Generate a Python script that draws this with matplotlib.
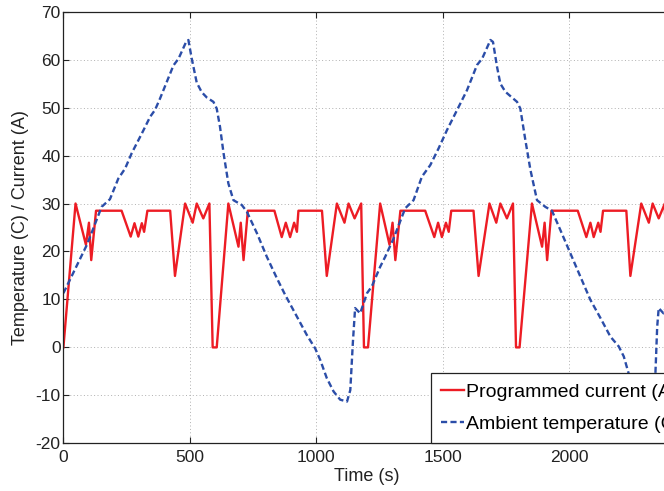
import matplotlib
matplotlib.use('Agg')
import matplotlib.pyplot as plt

plt.rcParams['font.family'] = ['Liberation Sans', 'DejaVu Sans']
plt.rcParams['axes.unicode_minus'] = False

# Programmed current (A)
t_cur = [0, 48, 89, 101, 110, 129, 230, 266, 281, 296, 310, 319, 332, 422, 441, 481, 511, 527, 553, 577, 590, 606,
         652, 692, 701, 712, 729, 834, 863, 879, 896, 912, 923, 929, 1022, 1041, 1081, 1111, 1127, 1151, 1177, 1188, 1204,
         1252, 1289, 1301, 1312, 1332, 1430, 1466, 1481, 1496, 1512, 1523, 1533, 1621, 1641, 1684, 1711, 1727, 1753, 1777, 1789, 1803,
         1852, 1892, 1902, 1912, 1929, 2033, 2067, 2083, 2096, 2114, 2123, 2133, 2225, 2241, 2284, 2314, 2329, 2353, 2377, 2390, 2400]
current = [0, 30, 21.4, 26, 18.2, 28.5, 28.5, 23.1, 25.9, 23.1, 25.9, 24.1, 28.5, 28.5, 14.9, 30, 26, 30, 26.9, 30, 0, 0,
           30, 21, 26, 18.2, 28.5, 28.5, 23, 26, 23, 26, 24.1, 28.5, 28.5, 14.9, 30, 26, 30, 26.9, 30, 0, 0,
           30, 21.4, 26, 18.2, 28.5, 28.5, 23, 26, 23, 26, 24.1, 28.5, 28.5, 14.9, 30, 26, 30, 26.9, 30, 0, 0,
           30, 21, 26, 18.2, 28.5, 28.5, 23, 26, 23, 26, 24.1, 28.5, 28.5, 14.9, 30, 26, 30, 26.9, 30, 0, 0]

# Ambient temperature (C)
t_amb = [0, 92, 105, 151, 184, 217, 244, 270, 310, 343, 362, 382, 435, 455, 485, 494, 507, 527, 547, 567,
         593, 606, 619, 633, 652, 672, 705, 725, 765, 804, 844, 877, 916, 962, 995, 1015, 1041, 1068, 1094, 1121,
         1134, 1144, 1153, 1173, 1200, 1219, 1252, 1272, 1305, 1351, 1384, 1417, 1450, 1483, 1516, 1556, 1595, 1635, 1655, 1688,
         1698, 1714, 1727, 1747, 1793, 1806, 1826, 1846, 1872, 1905, 1931, 1964, 2004, 2043, 2083, 2123, 2162, 2195, 2215, 2234,
         2262, 2290, 2318, 2334, 2340, 2347, 2353, 2372, 2400]
amb = [11.3, 21.3, 23, 29.3, 30.9, 35.2, 37.3, 40.5, 44.6, 48.1, 49.5, 51.9, 58.8, 60.2, 63.7, 64.1, 60.3, 55.2, 53.2, 52.1,
       51.2, 49.8, 46, 40.5, 34.2, 30.7, 29.7, 28.3, 23.8, 18.9, 14.4, 10.9, 7.1, 2.6, -0.2, -2.6, -6.4, -9.2, -10.9, -11.3,
       -8.9, 0.9, 8.2, 7.1, 11.3, 12.7, 16.8, 18.9, 22.7, 29, 30.7, 35.6, 38, 41.5, 45.3, 49.5, 53.6, 58.9, 60.2, 64.1,
       63.7, 58.5, 55, 53.3, 51.2, 49.8, 43.2, 37, 30.7, 29.3, 28.5, 24.5, 19.6, 14.8, 9.9, 6.1, 2.25, 0.2, -1.9, -5.4,
       -8.5, -10.5, -11, -9, -5.4, 4.3, 8.2, 7.1, 11]

x_ticks = [0, 500, 1000, 1500, 2000]
y_ticks = [-20, -10, 0, 10, 20, 30, 40, 50, 60, 70]

fig = plt.figure(figsize=(6.64, 4.91), dpi=100)
# axes run past the right edge, as in the original crop
ax = fig.add_axes([63.4 / 664, (491 - 443.3) / 491, 607.2 / 664, 431.6 / 491])

ax.plot(t_cur, current, color='#ED1C24', lw=1.7, label='Programmed current (A)')
ax.plot(t_amb, amb, color='#2B4DA8', lw=1.7, linestyle=(0, (2.6, 1.4)), label='Ambient temperature (C)')

ax.set_xlim(0, 2400)
ax.set_ylim(-20, 70)
ax.set_xticks(x_ticks)
ax.set_yticks(y_ticks)
ax.grid(True, linestyle=(0, (1, 2.5)), color='#b0b0b0', linewidth=0.7)
ax.tick_params(direction='in', length=4.5, width=0.8, top=True, right=True,
               labelsize=12.5, colors='#222222')
ax.tick_params(axis='y', pad=2)
ax.tick_params(axis='x', pad=5)
for s in ax.spines.values():
    s.set_color('#222222')
    s.set_linewidth(0.9)

ax.set_xlabel('Time (s)', fontsize=13, color='#222222', labelpad=2)
ax.set_ylabel('Temperature (C) / Current (A)', fontsize=13, color='#222222', labelpad=5)

leg = ax.legend(loc='lower left', bbox_to_anchor=(0.6054, 0.0), borderaxespad=0,
                fontsize=14, fancybox=False, framealpha=1, edgecolor='#222222',
                handlelength=1.2, handletextpad=0.1,
                labelspacing=0.76, borderpad=0.52)
leg.get_frame().set_linewidth(0.9)

fig.savefig('out.png', dpi=100)
